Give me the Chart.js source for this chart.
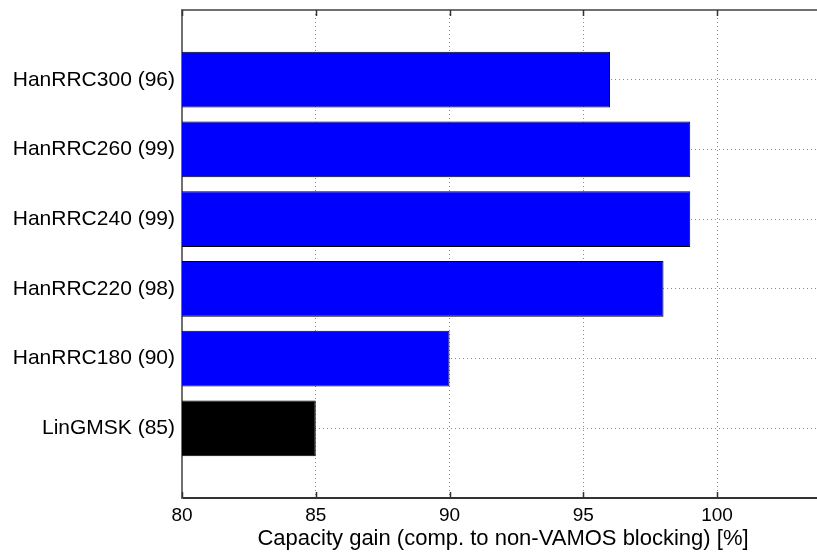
<!DOCTYPE html>
<html>
<head>
<meta charset="utf-8">
<script src="https://cdn.jsdelivr.net/npm/chart.js@4.4.1/dist/chart.umd.min.js"></script>
<style>
  html, body { margin: 0; padding: 0; background: #fff; overflow: hidden; }
  #wrap { width: 817px; height: 556px; overflow: hidden; }
</style>
</head>
<body>
<div id="wrap">
  <canvas id="chart" width="842" height="556"></canvas>
</div>
<script>
// categories, top to bottom (blank entries give the half-slot margins of the original axis)
const categories = ['', 'HanRRC300 (96)', 'HanRRC260 (99)', 'HanRRC240 (99)', 'HanRRC220 (98)', 'HanRRC180 (90)', 'LinGMSK (85)', ''];
const gainValues = [null, 96, 99, 99, 98, 90, 85, null];
const barColors = ['#0000ff', '#0000ff', '#0000ff', '#0000ff', '#0000ff', '#0000ff', '#000000', '#0000ff'];
const xTicks = [80, 85, 90, 95, 100];
const xMin = 80;
const xMax = 104;
const xTitle = 'Capacity gain (comp. to non-VAMOS blocking) [%]';

const FONT = '"Liberation Sans", Arial, Helvetica, sans-serif';

// top frame line + inward tick marks, like the matlab axes box
const boxPlugin = {
  id: 'box',
  afterDraw(chart) {
    const { ctx, chartArea } = chart;
    const xs = chart.scales.x;
    ctx.save();
    ctx.strokeStyle = '#707070';
    ctx.lineWidth = 2;
    ctx.beginPath();
    ctx.moveTo(chartArea.left, chartArea.top);
    ctx.lineTo(chartArea.right, chartArea.top);
    ctx.stroke();
    ctx.strokeStyle = '#333';
    ctx.lineWidth = 1.5;
    xTicks.forEach((v) => {
      const px = Math.round(xs.getPixelForValue(v)) + 0.5;
      ctx.beginPath();
      ctx.moveTo(px, chartArea.top);
      ctx.lineTo(px, chartArea.top + 6);
      ctx.moveTo(px, chartArea.bottom);
      ctx.lineTo(px, chartArea.bottom - 6);
      ctx.stroke();
    });
    ctx.restore();
  }
};

new Chart(document.getElementById('chart'), {
  type: 'bar',
  data: {
    labels: categories,
    datasets: [{
      data: gainValues,
      backgroundColor: barColors,
      borderColor: '#000',
      borderWidth: 1,
      borderSkipped: false,
      categoryPercentage: 1.0,
      barPercentage: 0.8,
    }],
  },
  options: {
    indexAxis: 'y',
    responsive: false,
    animation: false,
    layout: { padding: { top: 10, right: 18, left: 0, bottom: 0 } },
    plugins: {
      legend: { display: false },
      tooltip: { enabled: false },
    },
    scales: {
      x: {
        type: 'linear',
        min: xMin,
        max: xMax,
        afterBuildTicks: (scale) => { scale.ticks = xTicks.map((v) => ({ value: v })); },
        afterFit: (scale) => { scale.height = 58; scale.paddingLeft = 0; scale.paddingRight = 0; },
        grid: { color: '#8a8a8a', lineWidth: 1, drawTicks: false },
        border: { display: true, color: '#333', width: 2, dash: [1, 3] },
        ticks: { color: '#000', padding: 6, font: { family: FONT, size: 19 } },
        title: {
          display: true,
          text: xTitle,
          color: '#000',
          font: { family: FONT, size: 22 },
          padding: { top: 0, bottom: 4 },
        },
      },
      y: {
        offset: false,
        afterFit: (scale) => { scale.width = 182; scale.paddingTop = 0; scale.paddingBottom = 0; },
        grid: { color: '#8a8a8a', lineWidth: 1, drawTicks: false, offset: false },
        border: { display: true, color: '#707070', width: 2, dash: [1, 3] },
        ticks: { color: '#000', padding: 7, font: { family: FONT, size: 21 } },
      },
    },
  },
  plugins: [boxPlugin],
});
</script>
</body>
</html>
